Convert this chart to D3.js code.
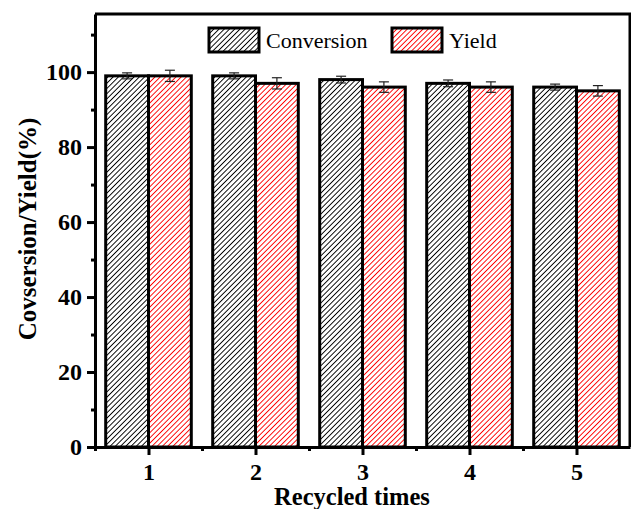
<!DOCTYPE html>
<html>
<head>
<meta charset="utf-8">
<script src="https://cdn.jsdelivr.net/npm/d3@7"></script>
<style>
  body { margin: 0; background: #fff; }
  svg { display: block; font-family: "Liberation Serif", "Times New Roman", serif; }
</style>
</head>
<body>
<svg id="chart" width="631" height="509"></svg>
<script>
const cycles = ['1', '2', '3', '4', '5'];
const seriesNames = ['Conversion', 'Yield'];
const conversion = [99, 99, 98, 97, 96];
const conversionErr = [0.8, 0.8, 0.9, 0.9, 0.8];
const yieldVals = [99, 97, 96, 96, 95];
const yieldErr = [1.5, 1.5, 1.4, 1.4, 1.4];
const yMajorTicks = [0, 20, 40, 60, 80, 100];
const yMinorTicks = [10, 30, 50, 70, 90, 110];

const $svg = d3.select('#chart');
const plotLeft = 95, plotRight = 630, plotTop = 14, plotBottom = 447;

const x = d3.scaleBand().domain(cycles).range([plotLeft, plotRight])
  .paddingInner(0.2).paddingOuter(0.1);
const xs = d3.scaleBand().domain(seriesNames).range([0, x.bandwidth()]);
const y = d3.scaleLinear().domain([0, 115.5]).range([plotBottom, plotTop]);

const colors = { Conversion: '#000', Yield: '#ff0000' };

// hatch patterns
const defs = $svg.append('defs');
seriesNames.forEach(s => {
  const p = defs.append('pattern')
    .attr('id', `hatch-${s}`)
    .attr('patternUnits', 'userSpaceOnUse')
    .attr('width', 3.7).attr('height', 10)
    .attr('patternTransform', 'rotate(45)');
  p.append('rect').attr('width', 3.7).attr('height', 10).attr('fill', '#fff');
  p.append('line')
    .attr('x1', 0.7).attr('x2', 0.7).attr('y1', 0).attr('y2', 10)
    .attr('stroke', colors[s]).attr('stroke-width', 1.1)
    .attr('shape-rendering', 'crispEdges');
});

const rows = cycles.map((c, i) => ({
  c,
  vals: [
    { s: 'Conversion', v: conversion[i], e: conversionErr[i] },
    { s: 'Yield', v: yieldVals[i], e: yieldErr[i] }
  ]
}));

const $group = $svg.selectAll('.cycle')
  .data(rows)
  .enter()
  .append('g')
  .attr('class', 'cycle')
  .attr('transform', d => `translate(${x(d.c)},0)`);

$group.selectAll('rect')
  .data(d => d.vals)
  .enter()
  .append('rect')
  .attr('x', d => xs(d.s))
  .attr('y', d => y(d.v))
  .attr('width', xs.bandwidth())
  .attr('height', d => y(0) - y(d.v))
  .attr('fill', d => `url(#hatch-${d.s})`)
  .attr('stroke', '#000')
  .attr('stroke-width', 3);

// error bars
const $err = $group.selectAll('.err')
  .data(d => d.vals)
  .enter()
  .append('g')
  .attr('class', 'err')
  .attr('stroke', '#222')
  .attr('stroke-width', 1.2);
$err.append('line')
  .attr('x1', d => xs(d.s) + xs.bandwidth() / 2)
  .attr('x2', d => xs(d.s) + xs.bandwidth() / 2)
  .attr('y1', d => y(d.v + d.e))
  .attr('y2', d => y(d.v - d.e));
[1, -1].forEach(k => {
  $err.append('line')
    .attr('x1', d => xs(d.s) + xs.bandwidth() / 2 - 5)
    .attr('x2', d => xs(d.s) + xs.bandwidth() / 2 + 5)
    .attr('y1', d => y(d.v + k * d.e))
    .attr('y2', d => y(d.v + k * d.e));
});

// frame (top and right)
$svg.append('path')
  .attr('d', `M${plotLeft},${plotTop}H${plotRight}V${plotBottom}`)
  .attr('fill', 'none').attr('stroke', '#000').attr('stroke-width', 3);

// y axis
$svg.append('g')
  .attr('class', 'axis')
  .attr('transform', `translate(${plotLeft},0)`)
  .call(d3.axisLeft(y).tickValues(yMajorTicks).tickSize(8).tickSizeOuter(0).tickPadding(5));
$svg.append('g')
  .attr('class', 'axis')
  .attr('transform', `translate(${plotLeft},0)`)
  .call(d3.axisLeft(y).tickValues(yMinorTicks).tickSize(4).tickFormat('').tickSizeOuter(0))
  .call(g => g.select('.domain').remove());

// x axis
const xLin = d3.scaleLinear().domain([0.5, 5.5]).range([plotLeft, plotRight]);
$svg.append('g')
  .attr('class', 'axis')
  .attr('transform', `translate(0,${plotBottom})`)
  .call(d3.axisBottom(xLin).tickValues(cycles.map(Number)).tickFormat(d3.format('d'))
    .tickSize(8).tickSizeOuter(0).tickPadding(8));
$svg.append('g')
  .attr('class', 'axis')
  .attr('transform', `translate(0,${plotBottom})`)
  .call(d3.axisBottom(xLin).tickValues([0.5, 1.5, 2.5, 3.5, 4.5]).tickSize(4).tickFormat('').tickSizeOuter(0))
  .call(g => g.select('.domain').remove());

$svg.selectAll('.axis .domain, .axis .tick line').attr('stroke', '#000').attr('stroke-width', 3);
$svg.selectAll('.axis .tick text')
  .attr('font-family', '"Liberation Serif", serif')
  .attr('font-size', 24)
  .attr('font-weight', 'bold')
  .attr('fill', '#000');

// axis titles
$svg.append('text')
  .attr('transform', 'translate(36,229) rotate(-90)')
  .attr('text-anchor', 'middle')
  .attr('font-size', 25).attr('font-weight', 'bold')
  .text('Covsersion/Yield(%)');
$svg.append('text')
  .attr('x', 352).attr('y', 505)
  .attr('text-anchor', 'middle')
  .attr('font-size', 24.5).attr('font-weight', 'bold')
  .text('Recycled times');

// legend
const legendX = [209, 392];
const $legend = $svg.selectAll('.legend')
  .data(seriesNames)
  .enter()
  .append('g')
  .attr('class', 'legend')
  .attr('transform', (d, i) => `translate(${legendX[i]},28)`);
$legend.append('rect')
  .attr('width', 50).attr('height', 24)
  .attr('fill', d => `url(#hatch-${d})`)
  .attr('stroke', '#000').attr('stroke-width', 3);
$legend.append('text')
  .attr('x', 57).attr('y', 20)
  .attr('font-size', 22)
  .text(d => d);
</script>
</body>
</html>
